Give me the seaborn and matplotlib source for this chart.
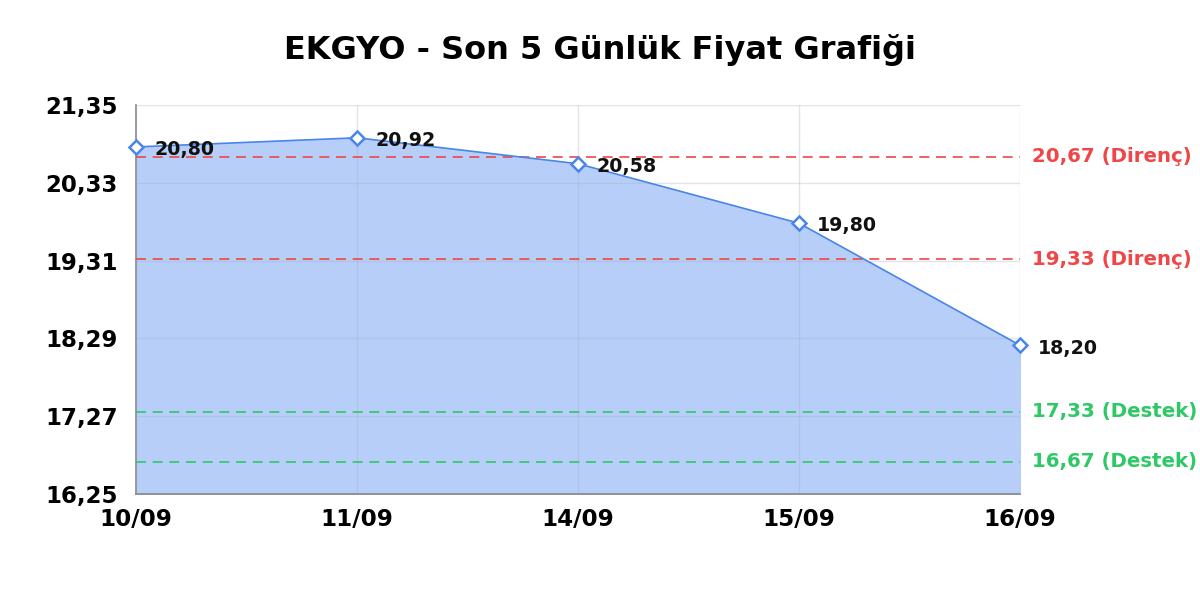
import numpy as np
import pandas as pd
import matplotlib
matplotlib.use("Agg")
import matplotlib.pyplot as plt
import seaborn as sns

# Chart data
dates = ["10/09", "11/09", "14/09", "15/09", "16/09"]
prices = [20.80, 20.92, 20.58, 19.80, 18.20]
price_labels = ["20,80", "20,92", "20,58", "19,80", "18,20"]
y_ticks = [16.25, 17.27, 18.29, 19.31, 20.33, 21.35]
y_tick_labels = ["16,25", "17,27", "18,29", "19,31", "20,33", "21,35"]
resistance = [20.67, 19.33]
resistance_labels = ["20,67 (Direnç)", "19,33 (Direnç)"]
support = [17.33, 16.67]
support_labels = ["17,33 (Destek)", "16,67 (Destek)"]

sns.set_theme(style="white")
plt.rcParams["font.family"] = ["DejaVu Sans"]

df = pd.DataFrame({"pos": np.arange(len(dates)), "price": prices})

fig = plt.figure(figsize=(12, 6), dpi=100)
ax = fig.add_axes([0.1133, 0.1767, 0.7367, 0.6483])

line_color = "#4a86e8"
fill_color = "#b7cff8"

ax.fill_between(df["pos"], df["price"], y_ticks[0], color=fill_color, zorder=1)
sns.lineplot(data=df, x="pos", y="price", ax=ax, color=line_color, linewidth=1.2,
             marker="D", markersize=7, markerfacecolor="white",
             markeredgecolor=line_color, markeredgewidth=1.8, zorder=4,
             clip_on=False)

for x, y, lab in zip(df["pos"], df["price"], price_labels):
    ax.annotate(lab, (x, y), xytext=(13, -2), textcoords="offset points",
                ha="left", va="center", fontsize=13.7, fontweight="bold",
                color="#111111", zorder=5)

red = "#ef4747"
green = "#2ec866"
for val, lab in zip(resistance, resistance_labels):
    ax.axhline(val, color=red, linestyle=(0, (6, 4)), linewidth=1.2, zorder=3)
    ax.annotate(lab, (1, val), xycoords=("axes fraction", "data"), xytext=(9, 0),
                textcoords="offset points", ha="left", va="center",
                fontsize=14.2, fontweight="bold", color=red)
for val, lab in zip(support, support_labels):
    ax.axhline(val, color=green, linestyle=(0, (6, 4)), linewidth=1.2, zorder=3)
    ax.annotate(lab, (1, val), xycoords=("axes fraction", "data"), xytext=(9, 0),
                textcoords="offset points", ha="left", va="center",
                fontsize=14.2, fontweight="bold", color=green)

ax.set_xlim(0, len(dates) - 1)
ax.set_ylim(y_ticks[0], y_ticks[-1])
ax.set_xticks(df["pos"])
ax.set_xticklabels(dates, fontsize=16.6, fontweight="bold", color="black")
ax.set_yticks(y_ticks)
ax.set_yticklabels(y_tick_labels, fontsize=16.5, fontweight="bold", color="black")
ax.tick_params(axis="y", length=0, pad=13)
ax.tick_params(axis="x", length=0, pad=10)
ax.set_xlabel("")
ax.set_ylabel("")

ax.grid(True, color="#a0a8c0", alpha=0.3, linewidth=1, zorder=2)
ax.set_axisbelow(False)
for side in ["top", "right"]:
    ax.spines[side].set_visible(False)
ax.spines["left"].set_color("#888888")
ax.spines["bottom"].set_color("#888888")
ax.spines["left"].set_linewidth(1.2)
ax.spines["bottom"].set_linewidth(1.2)

fig.suptitle("EKGYO - Son 5 Günlük Fiyat Grafiği", fontsize=23, fontweight="bold",
             color="black", y=0.943)

fig.savefig("out.png", dpi=100)
